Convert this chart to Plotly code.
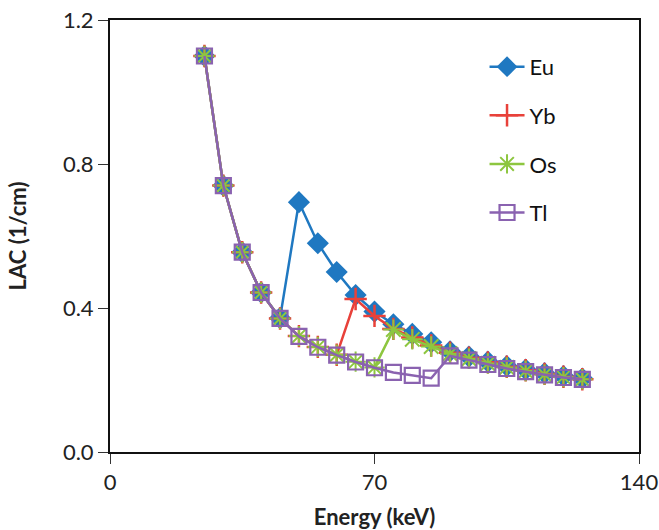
import plotly.graph_objects as go

energy = [25, 30, 35, 40, 45, 50, 55, 60, 65, 70, 75, 80, 85, 90, 95, 100, 105, 110, 115, 120, 125]

eu = [1.10, 0.74, 0.555, 0.443, 0.372, 0.694, 0.580, 0.500, 0.436, 0.390, 0.355, 0.328, 0.305,
      0.280, 0.265, 0.251, 0.239, 0.229, 0.219, 0.211, 0.204]
yb = [1.10, 0.74, 0.555, 0.443, 0.371, 0.322, 0.292, 0.270, 0.425, 0.378, 0.342, 0.318, 0.296,
      0.276, 0.262, 0.249, 0.237, 0.227, 0.217, 0.209, 0.202]
os_ = [1.10, 0.74, 0.555, 0.443, 0.371, 0.322, 0.292, 0.270, 0.251, 0.235, 0.340, 0.313, 0.293,
       0.273, 0.259, 0.246, 0.235, 0.225, 0.215, 0.208, 0.202]
tl = [1.10, 0.74, 0.555, 0.443, 0.371, 0.321, 0.291, 0.269, 0.250, 0.234, 0.221, 0.213, 0.205,
      0.267, 0.255, 0.243, 0.232, 0.223, 0.214, 0.207, 0.202]

names = ["Eu", "Yb", "Os", "Tl"]
colors = ["#1F78C1", "#E8413A", "#8DC63F", "#8A62B0"]

fig = go.Figure()
fig.add_trace(go.Scatter(x=energy, y=eu, name=names[0], mode="lines+markers", legendgroup="a",
                         line=dict(color=colors[0], width=2.5),
                         marker=dict(symbol="diamond", size=17, color=colors[0])))
fig.add_trace(go.Scatter(x=energy, y=yb, name=names[1], mode="lines+markers", legendgroup="b",
                         line=dict(color=colors[1], width=2.5),
                         marker=dict(symbol="cross-thin-open", size=16,
                                     line=dict(color=colors[1], width=2.5))))
fig.add_trace(go.Scatter(x=energy, y=os_, name=names[2], mode="lines+markers", legendgroup="c",
                         line=dict(color=colors[2], width=2.5),
                         marker=dict(symbol="asterisk-open", size=17,
                                     line=dict(color=colors[2], width=2))))
fig.add_trace(go.Scatter(x=energy, y=tl, name=names[3], mode="lines+markers", legendgroup="d",
                         line=dict(color=colors[3], width=2.5),
                         marker=dict(symbol="square-open", size=15,
                                     line=dict(color=colors[3], width=2.2))))

font_family = "Lato, 'Open Sans', sans-serif"

fig.update_layout(
    width=659, height=530,
    margin=dict(l=110, r=20, t=20, b=78),
    paper_bgcolor="white", plot_bgcolor="white",
    font=dict(family=font_family, size=21, color="#222222"),
    showlegend=True,
    legend=dict(x=0.708, y=0.94, xanchor="left", yanchor="top",
                bgcolor="rgba(0,0,0,0)", font=dict(size=22, color="#111111"),
                tracegroupgap=17, itemwidth=35),
    xaxis=dict(range=[0, 140], tickvals=[0, 70, 140], ticks="outside", ticklen=10,
               tickcolor="#333333", tickwidth=1.2, automargin=False, ticklabeloverflow="allow",
               showline=True, linecolor="#111111", linewidth=2, mirror=True,
               showgrid=False, zeroline=False,
               tickfont=dict(size=22, color="#222222"),
               title=dict(text="<b>Energy (keV)</b>", font=dict(size=22, color="#222222"), standoff=15)),
    yaxis=dict(range=[0, 1.2], tickvals=[0, 0.4, 0.8, 1.2], ticktext=["0.0", "0.4", "0.8", "1.2"],
               ticks="outside", ticklen=10, tickcolor="#333333", tickwidth=1.2, automargin=False,
               ticklabeloverflow="allow",
               showline=True, linecolor="#111111", linewidth=2, mirror=True,
               showgrid=False, zeroline=False,
               tickfont=dict(size=22, color="#222222"),
               title=dict(text="<b>LAC (1/cm)</b>", font=dict(size=22, color="#222222"), standoff=30)),
)

# remove the default 8px page margin so the 659x530 figure fills the window exactly
fig.write_html("out.html", config={"displayModeBar": False},
               post_script="document.body.style.margin='0';")
